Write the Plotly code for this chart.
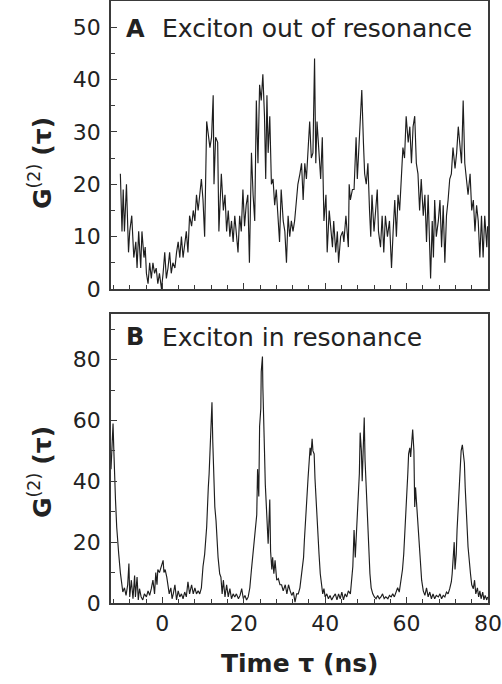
import plotly.graph_objects as go

# ---------------- data ----------------
# Panel A: exciton out of resonance
TAU_A = [
    -10.3, -9.9, -9.6, -9.3, -8.8, -8.3, -8.0, -7.5, -7.0, -6.5,
    -6.2, -5.8, -5.3, -5.0, -4.5, -4.2, -3.9, -3.5, -3.1, -2.7,
    -2.3, -1.9, -1.5, -1.1, -0.7, -0.2, 0.2, 0.6, 1.0, 1.4,
    1.8, 2.2, 2.6, 3.1, 3.5, 3.9, 4.3, 4.7, 5.1, 5.5,
    5.9, 6.3, 6.7, 7.2, 7.6, 8.0, 8.4, 8.8, 9.2, 9.6,
    10.0, 10.4, 10.9, 11.3, 11.7, 12.1, 12.5, 12.7, 13.1, 13.6,
    13.9, 14.5, 15.0, 15.4, 15.8, 16.2, 16.6, 17.0, 17.4, 17.8,
    18.2, 18.6, 19.0, 19.4, 19.8, 20.2, 20.6, 21.0, 21.4, 21.9,
    22.3, 22.7, 23.1, 23.5, 23.9, 24.3, 24.7, 25.1, 25.4, 25.7,
    26.0, 26.4, 26.8, 27.2, 27.6, 28.0, 28.4, 28.8, 29.2, 29.7,
    30.1, 30.5, 30.9, 31.3, 31.7, 32.1, 32.5, 32.9, 33.3, 33.8,
    34.2, 34.6, 35.0, 35.4, 35.8, 36.2, 36.6, 37.0, 37.4, 37.7,
    38.0, 38.5, 38.9, 39.3, 39.7, 40.2, 40.5, 41.0, 41.3, 41.8,
    42.1, 42.6, 43.0, 43.3, 43.8, 44.3, 44.6, 45.1, 45.7, 45.9,
    46.2, 46.7, 47.1, 47.6, 47.9, 48.4, 49.0, 49.4, 49.7, 50.1,
    50.5, 50.9, 51.2, 51.5, 52.0, 52.3, 52.8, 53.1, 53.6, 54.0,
    54.4, 54.8, 55.3, 55.8, 56.3, 56.7, 57.1, 57.5, 57.9, 58.3,
    58.7, 59.1, 59.5, 59.9, 60.4, 60.8, 61.2, 61.6, 62.0, 62.4,
    62.8, 63.2, 63.6, 64.1, 64.5, 64.9, 65.3, 65.7, 65.9, 66.3,
    66.6, 66.9, 67.3, 67.8, 68.2, 68.6, 69.0, 69.4, 69.8, 70.2,
    70.6, 71.0, 71.4, 71.9, 72.3, 72.7, 73.1, 73.5, 73.9, 74.3,
    74.7, 75.1, 75.6, 76.0, 76.4, 76.8, 77.2, 77.6, 78.0, 78.4,
    78.8, 79.2, 79.7, 79.9,
]
G2_A = [
    22, 11, 19, 11, 20, 7, 11, 14, 6, 9,
    4, 11, 4, 11, 6, 8, 3, 1, 5, 2,
    5, 3, 4, 1, 3, 0, 3, 7, 2, 4,
    7, 3, 5, 4, 7, 9, 6, 10, 6, 9,
    11, 7, 14, 12, 15, 13, 18, 15, 18, 21,
    17, 10, 32, 29, 27, 29, 37, 20, 29, 28,
    11, 22, 15, 18, 11, 15, 10, 13, 9, 14,
    10, 7, 14, 11, 19, 12, 16, 18, 5, 26,
    18, 13, 36, 24, 39, 36, 41, 33, 21, 37,
    26, 33, 20, 21, 16, 19, 14, 9, 19, 13,
    11, 5, 14, 10, 13, 11, 13, 16, 20, 22,
    24, 17, 24, 21, 27, 32, 25, 26, 44, 24,
    32, 26, 21, 29, 13, 18, 7, 15, 12, 8,
    13, 7, 11, 5, 10, 11, 9, 14, 8, 20,
    17, 19, 19, 29, 21, 28, 38, 28, 22, 20,
    24, 15, 10, 18, 11, 14, 19, 11, 8, 14,
    7, 14, 10, 13, 4, 11, 17, 10, 18, 15,
    20, 27, 25, 33, 28, 31, 24, 31, 33, 24,
    22, 15, 21, 14, 18, 9, 18, 5, 2, 13,
    6, 17, 10, 13, 17, 8, 16, 5, 14, 17,
    21, 22, 27, 23, 26, 31, 28, 24, 36, 24,
    21, 18, 22, 15, 17, 11, 16, 13, 6, 14,
    6, 14, 8, 12,
]

# Panel B: exciton in resonance
TAU_B = [
    -12.6, -12.4, -12.1, -11.9, -11.7, -11.5, -11.2, -10.9, -10.7, -10.3,
    -10.1, -9.7, -9.3, -8.9, -8.5, -8.2, -8.0, -7.6, -7.2, -6.8,
    -6.6, -6.2, -5.9, -5.6, -5.2, -4.8, -4.4, -3.9, -3.5, -3.1,
    -2.7, -2.3, -1.9, -1.6, -1.3, -1.1, -0.7, -0.2, 0.2, 0.4,
    0.7, 1.1, 1.4, 1.7, 2.1, 2.4, 2.7, 3.1, 3.5, 3.9,
    4.3, 4.7, 5.1, 5.5, 5.9, 6.3, 6.7, 7.2, 7.6, 8.0,
    8.4, 8.8, 9.2, 9.6, 10.0, 10.4, 10.9, 11.1, 11.3, 11.5,
    11.7, 11.9, 12.2, 12.4, 12.6, 12.7, 12.9, 13.2, 13.4, 13.7,
    14.1, 14.4, 14.7, 15.0, 15.4, 15.8, 16.2, 16.6, 17.0, 17.4,
    17.8, 18.2, 18.7, 19.1, 19.5, 19.9, 20.3, 20.7, 21.1, 21.5,
    21.9, 22.4, 22.8, 23.2, 23.4, 23.7, 23.9, 24.2, 24.3, 24.6,
    24.7, 24.9, 25.1, 25.3, 25.6, 25.8, 26.0, 26.4, 26.6, 26.9,
    27.1, 27.4, 27.7, 28.1, 28.5, 28.9, 29.3, 29.7, 30.2, 30.6,
    31.0, 31.4, 31.8, 32.2, 32.6, 33.0, 33.4, 33.8, 34.2, 34.7,
    34.9, 35.1, 35.3, 35.6, 35.8, 36.1, 36.3, 36.5, 36.8, 37.0,
    37.3, 37.5, 37.8, 38.0, 38.3, 38.5, 38.8, 39.2, 39.4, 39.7,
    40.0, 40.4, 40.8, 41.2, 41.6, 42.0, 42.5, 42.9, 43.3, 43.7,
    44.1, 44.5, 44.9, 45.3, 45.7, 46.2, 46.6, 46.8, 47.1, 47.4,
    47.6, 47.9, 48.1, 48.4, 48.6, 48.9, 49.1, 49.4, 49.6, 49.8,
    50.0, 50.3, 50.5, 50.8, 51.0, 51.3, 51.7, 52.1, 52.5, 52.9,
    53.3, 53.7, 54.1, 54.5, 54.9, 55.4, 55.8, 56.2, 56.6, 57.0,
    57.4, 57.8, 58.2, 58.6, 59.0, 59.3, 59.5, 59.8, 60.0, 60.3,
    60.5, 60.8, 61.0, 61.3, 61.5, 61.8, 62.0, 62.2, 62.4, 62.7,
    62.9, 63.2, 63.4, 63.7, 64.1, 64.5, 64.9, 65.3, 65.7, 66.1,
    66.5, 66.9, 67.3, 67.8, 68.2, 68.6, 69.0, 69.4, 69.8, 70.2,
    70.6, 71.0, 71.2, 71.4, 71.7, 71.9, 72.2, 72.4, 72.7, 72.9,
    73.2, 73.4, 73.7, 73.9, 74.2, 74.4, 74.6, 74.9, 75.1, 75.4,
    75.7, 76.0, 76.4, 76.7, 77.0, 77.4, 77.7, 78.0, 78.3, 78.7,
    79.0, 79.3, 79.7, 79.9,
]
G2_B = [
    44, 51, 59, 50, 40, 34, 25, 21, 16, 10,
    7.5, 3.6, 5, 2.5, 6, 13, 2, 7.5, 1.4, 9,
    2, 8.5, 1, 4.7, 2, 1, 3, 2, 4, 2.5,
    4.7, 7.5, 3, 10, 6, 11, 10, 12, 14, 10,
    11, 8.5, 6, 3, 5, 1.4, 3, 6, 1, 4,
    2, 3, 1.4, 3.6, 2, 7, 3, 6, 3, 5,
    3, 4, 3, 5, 12, 16, 25, 36, 38, 42.5,
    51, 58, 66, 53, 41, 36, 31.6, 27, 20.6, 15,
    9.6, 8.5, 3, 7.5, 2, 6, 2, 4.7, 1.4, 3,
    2, 3, 1.4, 2.5, 4.7, 1.4, 2.5, 1, 2, 5,
    11, 18, 22, 29, 44, 35, 58, 64, 76, 81,
    71, 63, 50, 39, 31.6, 25, 19.5, 34, 17, 11,
    15, 9.6, 14, 7.5, 8, 6, 6, 4, 6, 3,
    6, 4, 2.5, 3.6, 0.3, 3, 3, 5, 9.6, 15,
    20.6, 26, 31.6, 35, 41, 47, 51, 48.5, 54, 50,
    49, 41, 32.7, 25, 19.5, 16, 9.6, 6, 3, 4.7,
    2, 3, 1.4, 2.5, 1, 2, 3, 1, 3, 1.4,
    3.6, 1, 3, 2, 4, 3, 9.6, 12, 24, 15,
    20.6, 29, 38, 42.5, 56, 50, 40, 53, 61, 47,
    40, 31.6, 22.8, 16, 9.6, 5, 3, 2, 1.4, 2.5,
    1.4, 2, 3, 1.4, 2, 1.4, 2.5, 2, 3, 2,
    3.6, 5, 3.6, 7.5, 11, 16, 20.6, 27, 35, 42.5,
    49, 51, 48, 53, 57, 50, 31.6, 38, 34, 27,
    20.6, 15, 11, 7.5, 4, 2.5, 5, 2, 3.6, 1.4,
    3, 1.4, 2.5, 2, 3, 1.4, 2.5, 2, 3.6, 3,
    4.7, 7, 9.6, 14, 20, 11, 16, 24, 31.6, 39,
    44.7, 50, 52, 48.5, 46, 38, 29.4, 24, 18.4, 13,
    9.6, 6, 4.7, 7.5, 3, 5, 2, 4, 1.4, 3.6,
    1, 2.5, 1, 2,
]

X_TICKS = [0, 20, 40, 60, 80]
Y_TICKS_A = [0, 10, 20, 30, 40, 50]
Y_TICKS_B = [0, 20, 40, 60, 80]

PANEL_A_LETTER, PANEL_A_TEXT = "A", "Exciton out of resonance"
PANEL_B_LETTER, PANEL_B_TEXT = "B", "Exciton in resonance"
Y_TITLE = "<b>G</b><sup>(2)</sup> <b>(\u03c4)</b>"
X_TITLE = "<b>Time \u03c4 (ns)</b>"

# ---------------- figure ----------------
W, H = 502, 684
FONT = "DejaVu Sans"
INK = "#1e1e1e"
AXC = "#3a3a3a"


def px(x):
    return x / W


def py(y):
    return 1 - y / H


fig = go.Figure()
fig.add_trace(go.Scatter(x=TAU_A, y=G2_A, mode="lines", xaxis="x", yaxis="y",
                         line=dict(color=INK, width=1.15), hoverinfo="skip"))
fig.add_trace(go.Scatter(x=TAU_B, y=G2_B, mode="lines", xaxis="x2", yaxis="y2",
                         line=dict(color=INK, width=1.15), hoverinfo="skip"))

xdom = [px(111), px(488)]
xcommon = dict(
    range=[-12.6, 80], tickmode="array", tickvals=X_TICKS,
    ticks="inside", ticklen=6, tickwidth=1.2, tickcolor=AXC,
    showline=True, linecolor=AXC, linewidth=1.5, mirror=True,
    showgrid=False, zeroline=False, domain=xdom, automargin=False,
    minor=dict(dtick=4, tick0=0, ticks="inside", ticklen=4, tickwidth=1,
               tickcolor=AXC, showgrid=False),
    tickfont=dict(family=FONT, size=22, color="#222"),
)
ycommon = dict(
    ticks="inside", ticklen=6, tickwidth=1.2, tickcolor=AXC,
    showline=True, linecolor=AXC, linewidth=1.5, mirror=True,
    showgrid=False, zeroline=False, automargin=False, ticklabelstandoff=4,
    tickfont=dict(family=FONT, size=22, color="#222"),
)

fig.update_layout(
    width=W, height=H, margin=dict(l=0, r=0, t=0, b=0),
    paper_bgcolor="white", plot_bgcolor="white", showlegend=False,
    font=dict(family=FONT, color="#222"),
    xaxis=dict(xcommon, anchor="y", showticklabels=False),
    xaxis2=dict(xcommon, anchor="y2", showticklabels=True),
    yaxis=dict(ycommon, anchor="x", range=[0, 55], tickmode="array",
               tickvals=Y_TICKS_A, domain=[py(289), py(1)],
               minor=dict(dtick=5, tick0=0, ticks="inside", ticklen=4,
                          tickwidth=1, tickcolor=AXC, showgrid=False)),
    yaxis2=dict(ycommon, anchor="x2", range=[0, 95], tickmode="array",
                tickvals=Y_TICKS_B, domain=[py(603), py(314)],
                minor=dict(dtick=10, tick0=0, ticks="inside", ticklen=4,
                           tickwidth=1, tickcolor=AXC, showgrid=False)),
)

ann = []


def label(text, x, y, size, xanchor="left", angle=0, bold=False):
    ann.append(dict(text=(f"<b>{text}</b>" if bold else text), x=px(x), y=py(y),
                    xref="paper", yref="paper", xanchor=xanchor, yanchor="middle",
                    showarrow=False, textangle=angle,
                    font=dict(family=FONT, size=size, color="#222")))


label(PANEL_A_LETTER, 124, 29, 24, bold=True)
label(PANEL_A_TEXT, 160, 29, 25)
label(PANEL_B_LETTER, 124, 337, 24, bold=True)
label(PANEL_B_TEXT, 160, 337, 25)
label(Y_TITLE, 40, 163, 25, xanchor="center", angle=-90)
label(Y_TITLE, 40, 472, 25, xanchor="center", angle=-90)
label(X_TITLE, 299.5, 663, 25, xanchor="center")

fig.update_layout(annotations=ann)
fig.write_html(
    "out.html",
    config={"displayModeBar": False},
    post_script="document.body.style.margin='0';document.body.style.overflow='hidden';",
)
